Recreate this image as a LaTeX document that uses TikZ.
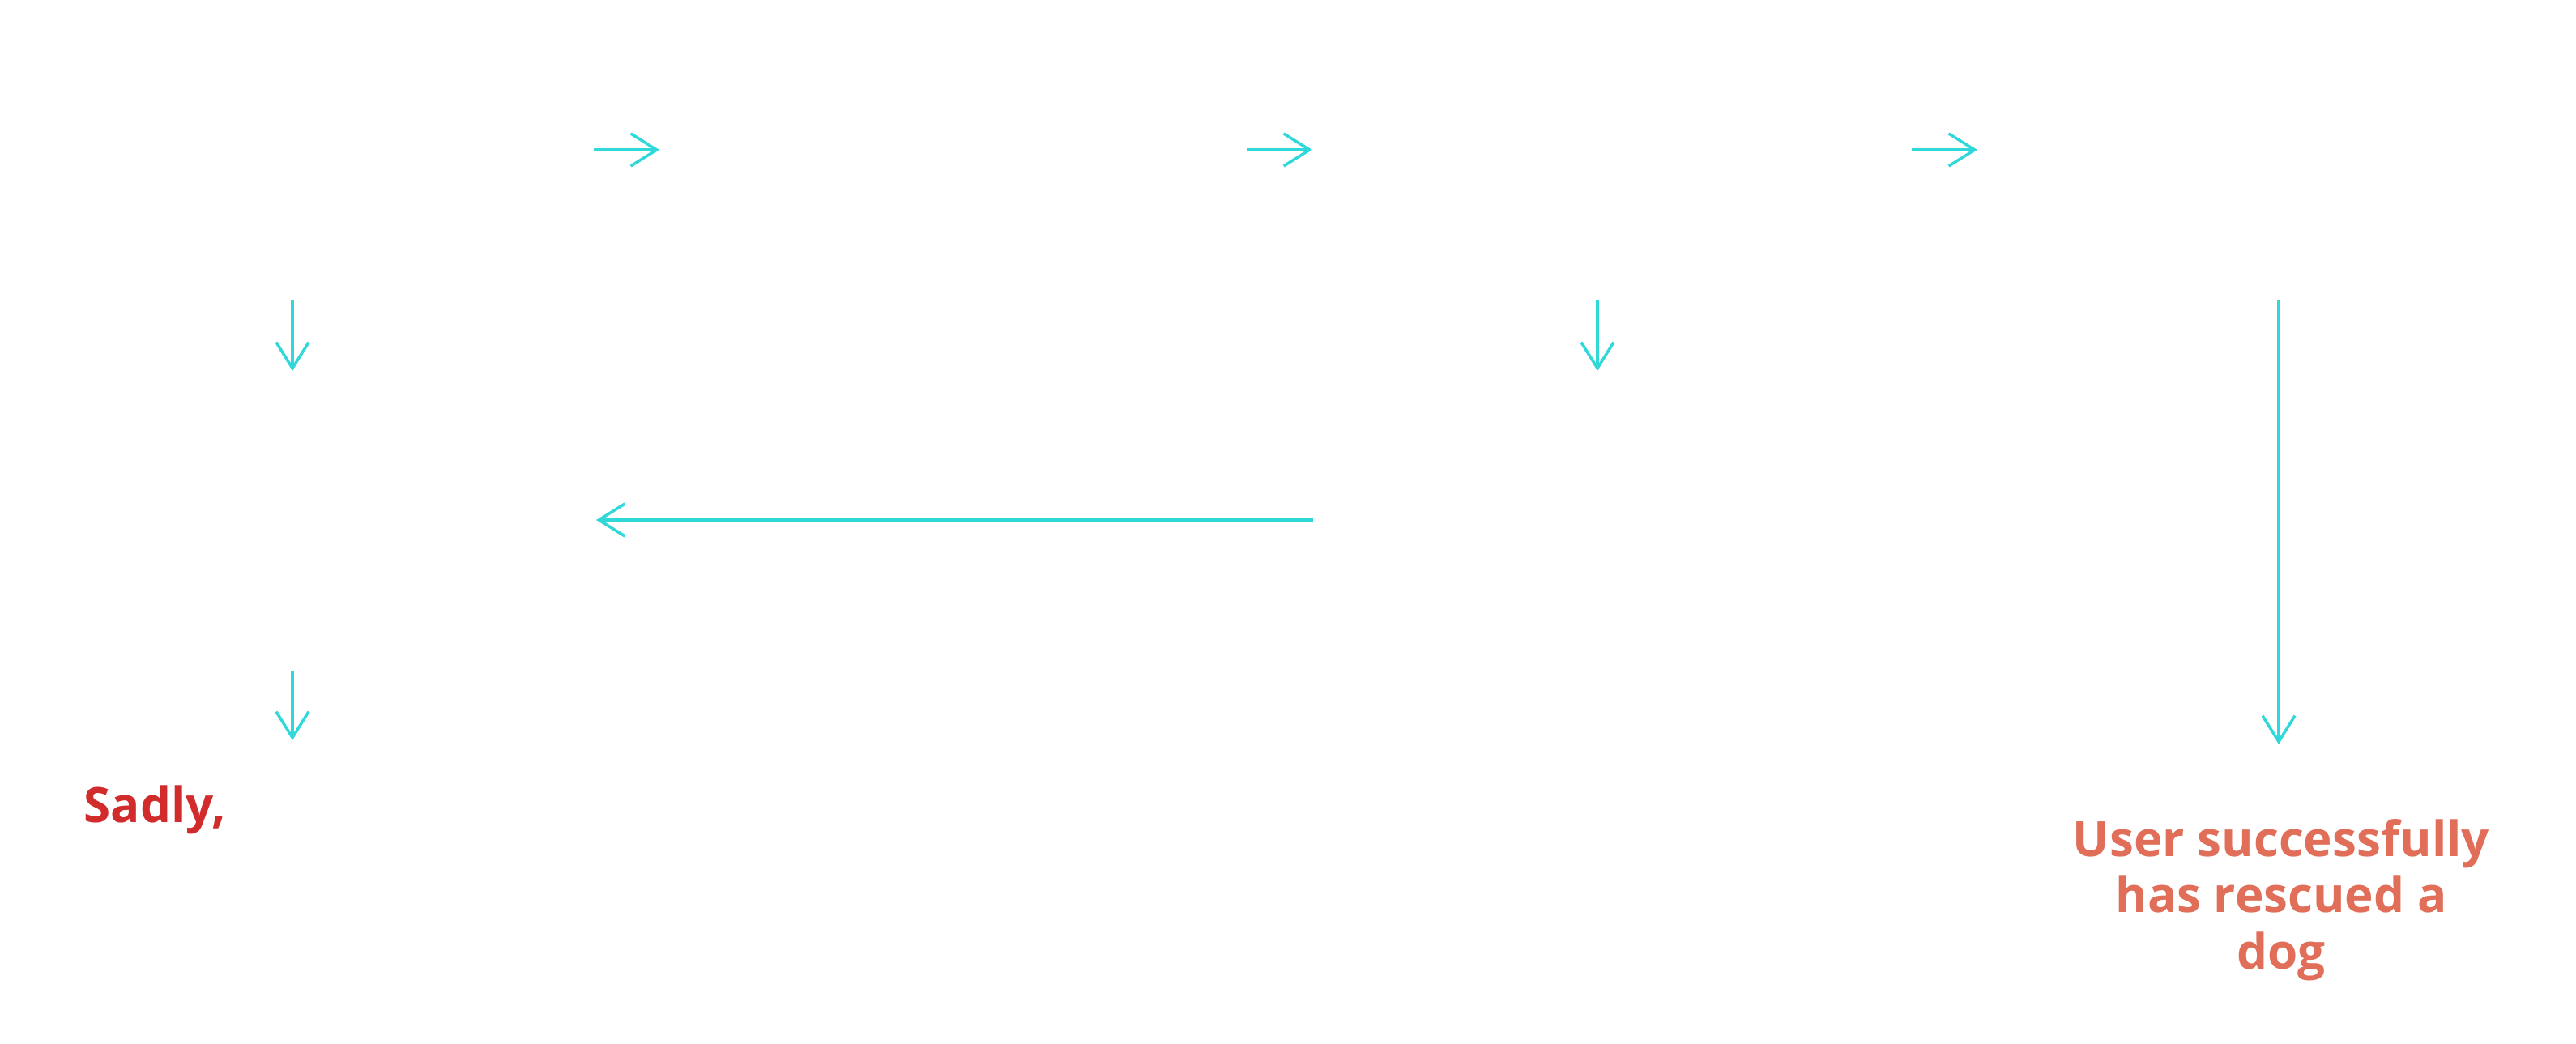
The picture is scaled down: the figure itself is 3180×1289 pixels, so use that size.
\documentclass[tikz,border=0pt]{standalone}
\usepackage{fontspec}
\setmainfont{Open Sans}
\usetikzlibrary{arrows.meta}
\definecolor{flowcyan}{RGB}{48,216,218}
\definecolor{sadred}{RGB}{210,43,43}
\definecolor{goodorange}{RGB}{224,110,88}
\tikzset{
  x=0.01cm, y=-0.01cm,
  flow/.style={draw=flowcyan, line width=1pt, -{Straight Barb[length=0.32cm, width=0.40cm, line width=1pt]}},
  lbl/.style={font=\bfseries\fontsize{17.1}{19.7}\selectfont, inner sep=0pt}
}
\begin{document}
\begin{tikzpicture}
\useasboundingbox[fill=white] (0,0) rectangle (3180,1289);
% free ends of the connectors
\coordinate (a1s) at (733,185);  \coordinate (a1e) at (814,185);
\coordinate (a2s) at (1539,185); \coordinate (a2e) at (1620,185);
\coordinate (a3s) at (2360,185); \coordinate (a3e) at (2441,185);
\coordinate (d1s) at (361,370);  \coordinate (d1e) at (361,458);
\coordinate (d2s) at (1972,370); \coordinate (d2e) at (1972,458);
\coordinate (d3s) at (2813,370); \coordinate (d3e) at (2813,919);
\coordinate (bs)  at (1621,642); \coordinate (be)  at (736,642);
\coordinate (d4s) at (361,828);  \coordinate (d4e) at (361,914);
% connectors
\draw[flow] (a1s) -- (a1e);
\draw[flow] (a2s) -- (a2e);
\draw[flow] (a3s) -- (a3e);
\draw[flow] (bs) -- (be);
\draw[flow] (d1s) -- (d1e);
\draw[flow] (d2s) -- (d2e);
\draw[flow] (d3s) -- (d3e);
\draw[flow] (d4s) -- (d4e);
% texts
\node[lbl, text=sadred, anchor=base west] (sad) at (103,1016) {Sadly,};
\node[lbl, text=goodorange, align=center, anchor=north] (win) at (2816,1011) {User successfully\\has rescued a\\dog};
\end{tikzpicture}
\end{document}
